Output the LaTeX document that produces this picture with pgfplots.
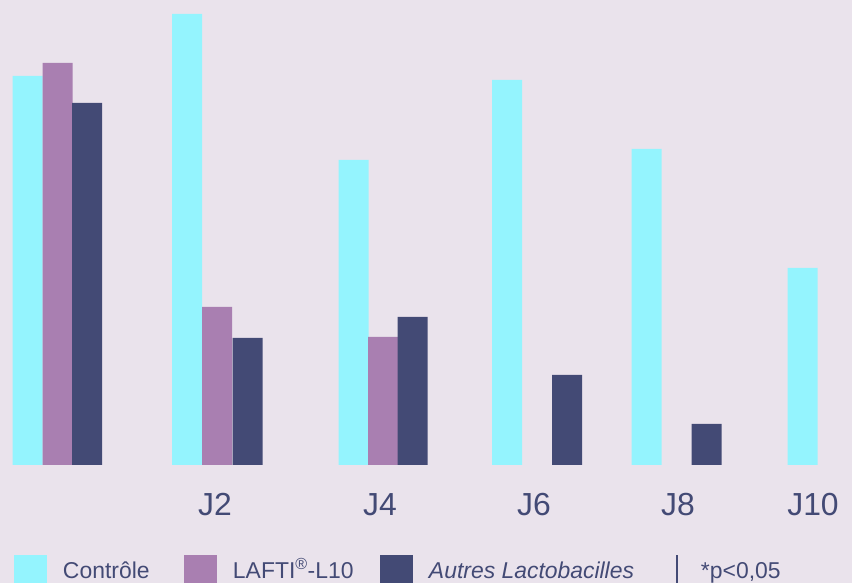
\documentclass[border=0pt]{standalone}
\usepackage{pgfplots}
\pgfplotsset{compat=1.18}
\usepackage{fontspec}
\setmainfont{Liberation Sans}
\definecolor{bg}{HTML}{EAE3EC}
\definecolor{cy}{HTML}{94F4FE}
\definecolor{pu}{HTML}{A97FB1}
\definecolor{nv}{HTML}{434A75}
\begin{document}
\begin{tikzpicture}
\begin{axis}[
  width=852bp, height=583bp, scale only axis,
  xmin=0, xmax=852, ymin=-118, ymax=465,
  axis lines=none,
  axis background/.style={fill=bg},
  clip=false,
  legend columns=4,
  legend style={draw=none, fill=none, at={(axis cs:14,-118)}, anchor=south west,
    inner sep=0pt, outer sep=0pt, nodes={inner sep=0pt, outer sep=0pt},
    font=\fontsize{23}{26}\selectfont, text=nv,
    /tikz/every odd column/.style={column sep=16bp},
    /tikz/every even column/.style={column sep=0bp}},
  legend image code/.code={\fill[#1] (0bp,-12bp) rectangle (33bp,16bp);},
]
\addplot[ybar, bar width=30, bar shift=0pt, fill=cy, draw=none] coordinates {
  (27.5,389) (187,451) (353.5,305) (507,385) (646.5,316) (802.5,197)};
\addlegendentry{\makebox[121bp][l]{Contrôle}}
\addplot[ybar, bar width=30, bar shift=0pt, fill=pu, draw=none] coordinates {
  (57.5,402) (217,158) (383,128)};
\addlegendentry{\makebox[147bp][l]{LAFTI\smash{\textsuperscript{®}}-L10}}
\addplot[ybar, bar width=30, bar shift=0pt, fill=nv, draw=none] coordinates {
  (87,362) (247.5,127) (412.5,148) (567,90) (706.5,41)};
\addlegendentry{\makebox[247bp][l]{\itshape Autres Lactobacilles}}
\addlegendimage{legend image code/.code={\fill[nv, draw=none] (0.1bp,-12bp) rectangle (1.9bp,16bp); \path[draw=none, fill=none] (0bp,0bp) rectangle (9bp,1bp);}}
\addlegendentry{*p<0,05}
\begin{scope}[every node/.style={font=\fontsize{32}{36}\selectfont, text=nv}]
\node at (axis cs:215,-40) {J2};
\node at (axis cs:380,-40) {J4};
\node at (axis cs:534,-40) {J6};
\node at (axis cs:678,-40) {J8};
\node at (axis cs:813,-40) {J10};
\end{scope}
\end{axis}
\end{tikzpicture}
\end{document}
